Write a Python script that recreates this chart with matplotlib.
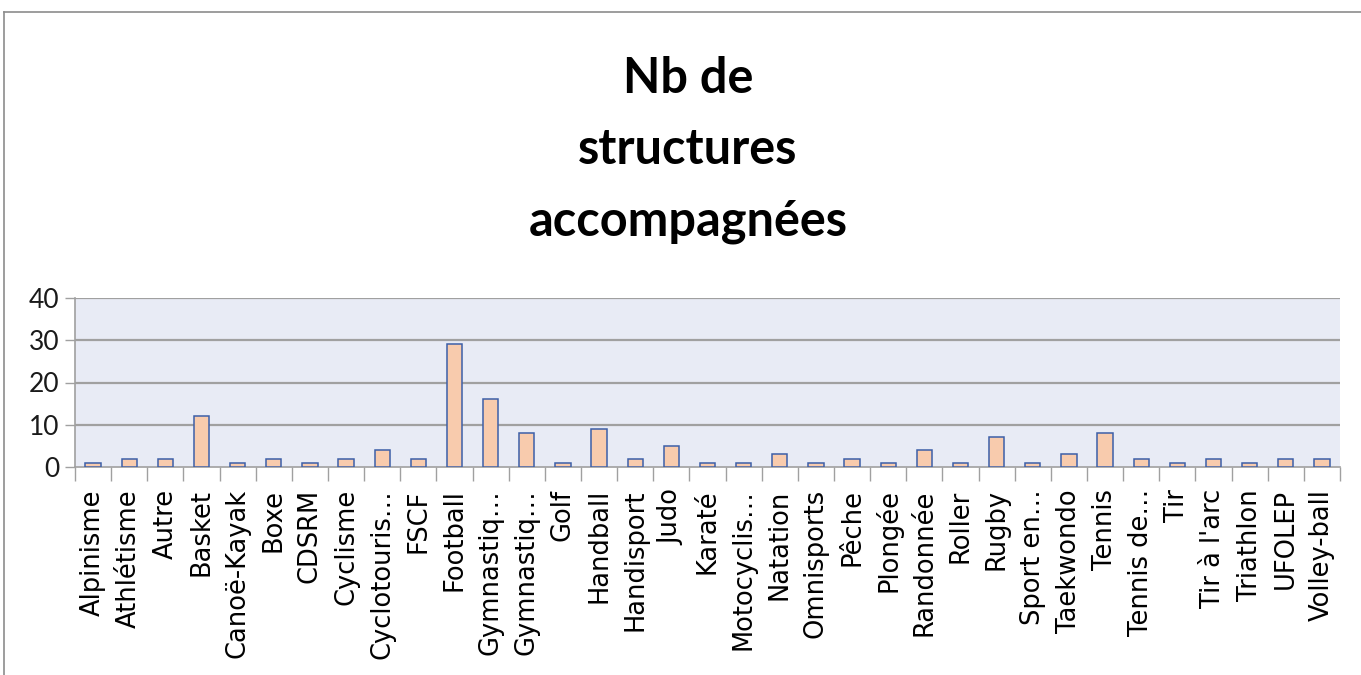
import matplotlib
matplotlib.use("Agg")
import matplotlib.pyplot as plt
from matplotlib.lines import Line2D
import numpy as np

sports = ["Alpinisme", "Athlétisme", "Autre", "Basket", "Canoë-Kayak", "Boxe", "CDSRM",
          "Cyclisme", "Cyclotouris…", "FSCF", "Football", "Gymnastiq…", "Gymnastiq…", "Golf",
          "Handball", "Handisport", "Judo", "Karaté", "Motocyclis…", "Natation", "Omnisports",
          "Pêche", "Plongée", "Randonnée", "Roller", "Rugby", "Sport en…", "Taekwondo",
          "Tennis", "Tennis de…", "Tir", "Tir à l'arc", "Triathlon", "UFOLEP", "Volley-ball"]
nb_structures = [1, 2, 2, 12, 1, 2, 1, 2, 4, 2, 29, 16, 8, 1, 9, 2, 5, 1, 1, 3, 1,
                 2, 1, 4, 1, 7, 1, 3, 8, 2, 1, 2, 1, 2, 2]
y_ticks = [0, 10, 20, 30, 40]

W, H = 1361, 675
fig = plt.figure(figsize=(W / 100, H / 100), dpi=100)

# chart frame (top and left borders)
fig.add_artist(Line2D([4 / W, 1], [1 - 12 / H, 1 - 12 / H], transform=fig.transFigure,
                      color="#8c8c8c", lw=1.2))
fig.add_artist(Line2D([4 / W, 4 / W], [0, 1 - 12 / H], transform=fig.transFigure,
                      color="#8c8c8c", lw=1.2))

ax = fig.add_axes([75 / W, 1 - 467 / H, (1340 - 75) / W, (467 - 298) / H])
ax.set_facecolor("#e8ebf5")

x = np.arange(len(sports))
ax.bar(x, nb_structures, width=0.42, color="#f8cbad", edgecolor="#3d5fa8", linewidth=1.1, zorder=3)

ax.set_xlim(-0.5, len(sports) - 0.5)
ax.set_ylim(0, 40)
ax.set_yticks(y_ticks)
ax.set_yticklabels([str(v) for v in y_ticks], fontsize=19, family=["Lato", "DejaVu Sans"],
                   color="#1a1a1a")
for v in y_ticks[1:]:
    ax.axhline(v, color="#a0a0a0", lw=1.6, zorder=1)

# category ticks between bars, labels in the middle
ax.set_xticks(np.arange(-0.5, len(sports), 1.0))
ax.set_xticklabels([])
ax.set_xticks(x, minor=True)
ax.set_xticklabels(sports, minor=True, rotation=90, fontsize=18.5,
                   family=["DejaVu Sans"], va="top", ha="center", color="black")
ax.tick_params(axis="x", which="major", length=10, color="#a0a0a0", width=1)
ax.tick_params(axis="x", which="minor", length=0, pad=16)
ax.tick_params(axis="y", length=7, color="#a0a0a0", width=1, pad=4)

for s in ["top", "right"]:
    ax.spines[s].set_visible(False)
ax.spines["left"].set_color("#a0a0a0")
ax.spines["bottom"].set_color("#a0a0a0")
ax.spines["left"].set_linewidth(1.2)
ax.spines["bottom"].set_linewidth(1.2)

fig.text(688 / W, 1 - 150 / H, "Nb de\nstructures\naccompagnées", ha="center", va="center",
         fontsize=35, fontweight="bold", linespacing=1.7,
         family=["Lato", "DejaVu Sans"])

fig.savefig("out.png", dpi=100, facecolor="white")
